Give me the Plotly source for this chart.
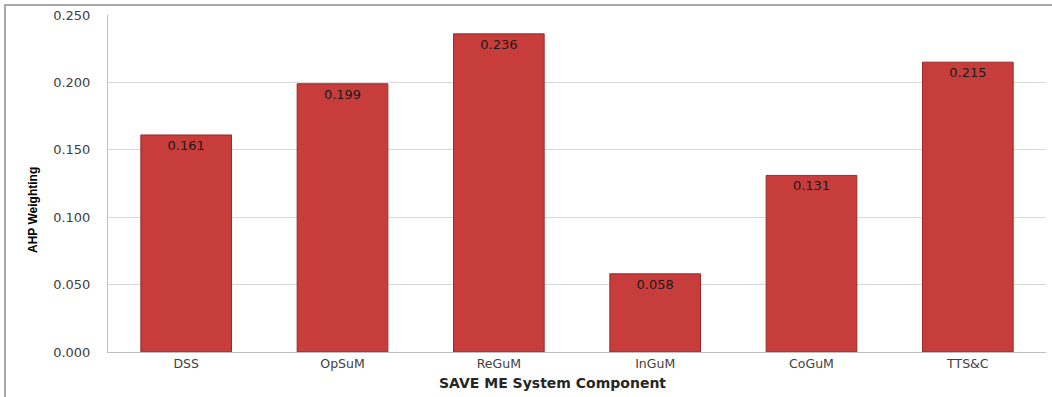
import plotly.graph_objects as go

categories = ["DSS", "OpSuM", "ReGuM", "InGuM", "CoGuM", "TTS&C"]
weights = [0.161, 0.199, 0.236, 0.058, 0.131, 0.215]
ytick_vals = [0.0, 0.05, 0.10, 0.15, 0.20, 0.25]
ytick_text = ["0.000", "0.050", "0.100", "0.150", "0.200", "0.250"]

fig = go.Figure()
fig.add_trace(go.Bar(
    x=categories, y=weights,
    marker=dict(color="#c63d3c", line=dict(color="#9a2a2a", width=1)),
    text=[f"{v:.3f}" for v in weights],
    textposition="inside", insidetextanchor="end",
    textfont=dict(family="DejaVu Sans", size=13, color="#1a1a1a"),
    cliponaxis=False,
))

fig.update_layout(
    width=1052, height=397,
    margin=dict(l=108, r=6, t=15, b=45),
    paper_bgcolor="white", plot_bgcolor="white",
    bargap=0.42, showlegend=False,
    font=dict(family="DejaVu Sans", size=12, color="#404040"),
    xaxis=dict(
        showline=True, linecolor="#bfbfbf", linewidth=1,
        ticks="", tickfont=dict(size=12.5, color="#404040"),
        showgrid=False,
    ),
    yaxis=dict(
        range=[0, 0.25], tickvals=ytick_vals, ticktext=ytick_text,
        showline=True, linecolor="#bfbfbf", linewidth=1,
        showgrid=True, gridcolor="#d9d9d9", gridwidth=1,
        ticks="", ticklabelstandoff=14,
        tickfont=dict(size=13, color="#404040"),
        zeroline=False,
    ),
    annotations=[
        dict(text="<b>SAVE ME System Component</b>", xref="paper", yref="paper",
             x=(552 - 108) / 938, y=(352 - 383) / 337, yanchor="middle", showarrow=False,
             font=dict(family="DejaVu Sans", size=14, color="#262626")),
        dict(text="<b>AHP Weighting</b>", xref="paper", yref="paper",
             x=(33 - 108) / 938, y=(352 - 210) / 337, textangle=-90,
             showarrow=False, xanchor="center", yanchor="middle",
             font=dict(family="Liberation Sans", size=12, color="#000000")),
    ],
    shapes=[
        dict(type="rect", xref="paper", yref="paper",
             x0=(5 - 108) / 938, x1=1.05, y0=-0.3, y1=(352 - 5) / 337,
             line=dict(color="#8c8c8c", width=1.5), layer="below"),
    ],
)

fig.write_html("out.html")
